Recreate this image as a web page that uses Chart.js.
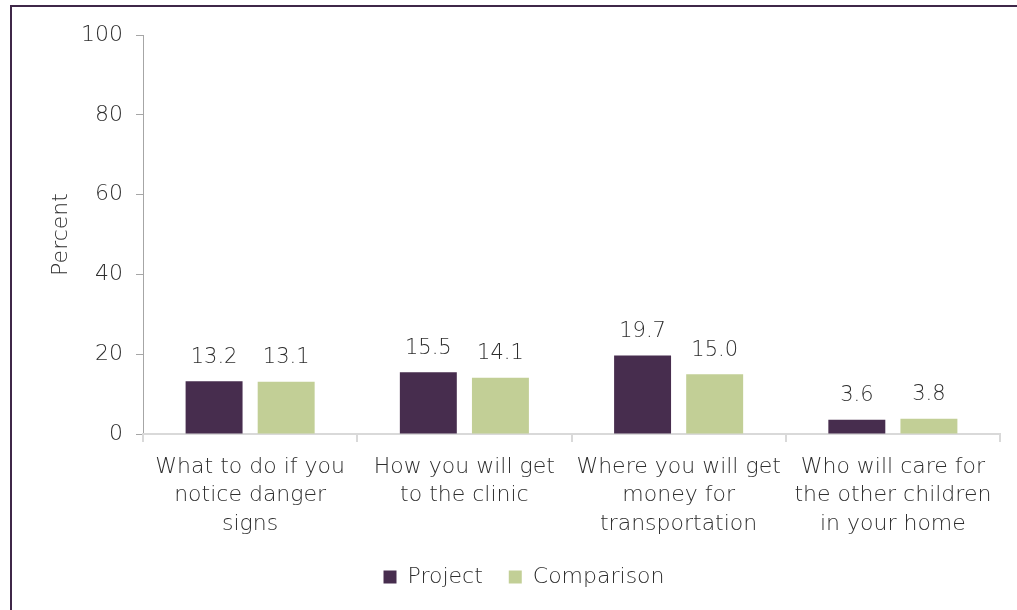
<!DOCTYPE html>
<html>
<head>
<meta charset="utf-8">
<script src="https://cdn.jsdelivr.net/npm/chart.js@4.4.1/dist/chart.umd.min.js"></script>
<style>
  html, body { margin: 0; padding: 0; background: #fff; }
  body { width: 1017px; height: 610px; overflow: hidden; position: relative; }
  .frame { position: absolute; left: 10px; top: 5px; width: 1100px; height: 700px; border: 2px solid #3f2748; box-sizing: border-box; }
  .wrap { position: absolute; left: 0; top: 0; width: 1017px; height: 610px; }
</style>
</head>
<body>
<div class="frame"></div>
<div class="wrap"><canvas id="chart"></canvas></div>
<script>
const categories = [
    ['What to do if you', 'notice danger', 'signs'],
    ['How you will get', 'to the clinic'],
    ['Where you will get', 'money for', 'transportation'],
    ['Who will care for', 'the other children', 'in your home']
];
const projectValues = [13.2, 15.5, 19.7, 3.6];
const comparisonValues = [13.1, 14.1, 15.0, 3.8];
const yTicks = [0, 20, 40, 60, 80, 100];

const textColor = '#2e2e2e';
const fontName = "'DejaVu Sans', sans-serif";

// draw the numbers above each bar
const barLabels = {
    id: 'barLabels',
    afterDatasetsDraw(chart) {
        const ctx = chart.ctx;
        ctx.save();
        ctx.font = `300 21px ${fontName}`;
        ctx.fillStyle = textColor;
        ctx.textAlign = 'center';
        ctx.textBaseline = 'middle';
        chart.data.datasets.forEach((ds, i) => {
            chart.getDatasetMeta(i).data.forEach((bar, j) => {
                ctx.fillText(ds.data[j].toFixed(1), bar.x, bar.y - 24);
            });
        });
        ctx.restore();
    }
};

new Chart(document.getElementById('chart'), {
    type: 'bar',
    data: {
        labels: categories,
        datasets: [{
            label: 'Project',
            data: projectValues,
            backgroundColor: '#472d4e',
            categoryPercentage: 0.673,
            barPercentage: 0.79
        }, {
            label: 'Comparison',
            data: comparisonValues,
            backgroundColor: '#c2cf96',
            categoryPercentage: 0.673,
            barPercentage: 0.79
        }]
    },
    options: {
        responsive: true,
        maintainAspectRatio: false,
        animation: false,
        layout: {
            padding: { left: 48, right: 17, top: 35, bottom: 12 }
        },
        plugins: {
            legend: {
                position: 'bottom',
                labels: {
                    color: textColor,
                    font: { family: fontName, size: 22, weight: 300 },
                    boxWidth: 13,
                    boxHeight: 13,
                    padding: 26
                }
            },
            tooltip: { enabled: false }
        },
        scales: {
            y: {
                min: 0,
                max: 100,
                afterBuildTicks(scale) {
                    scale.ticks = yTicks.map(v => ({ value: v }));
                },
                afterFit(scale) {
                    scale.width = 95;
                },
                border: { color: '#a6a6a6', width: 1 },
                grid: {
                    drawOnChartArea: false,
                    color: '#a6a6a6',
                    tickLength: 7
                },
                ticks: {
                    color: textColor,
                    font: { family: fontName, size: 22, weight: 300 },
                    padding: 13
                },
                title: {
                    display: true,
                    text: 'Percent',
                    color: textColor,
                    font: { family: fontName, size: 22, weight: 300 },
                    padding: { top: 0, bottom: 0 }
                }
            },
            x: {
                afterFit(scale) {
                    scale.height = 106;
                },
                border: { color: '#d9d9d9', width: 2 },
                grid: {
                    offset: true,
                    drawOnChartArea: false,
                    color: '#d9d9d9',
                    lineWidth: 2,
                    tickLength: 8
                },
                ticks: {
                    color: textColor,
                    font: { family: fontName, size: 22, weight: 300, lineHeight: 1.29 },
                    padding: 11,
                    maxRotation: 0,
                    autoSkip: false
                }
            }
        }
    },
    plugins: [barLabels]
});
</script>
</body>
</html>
